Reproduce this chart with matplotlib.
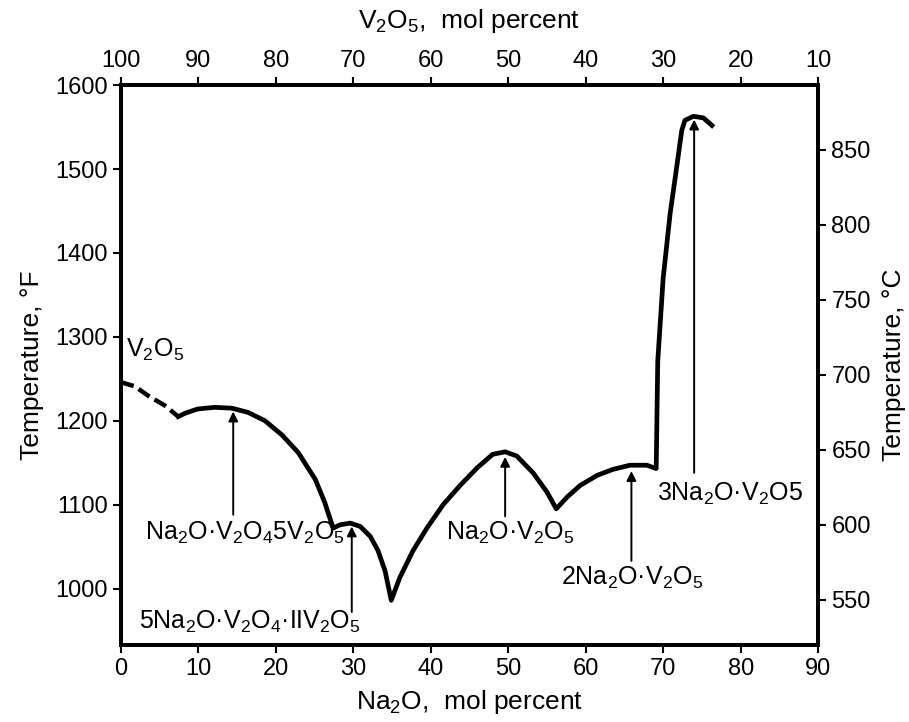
import matplotlib
matplotlib.use('Agg')
import matplotlib.pyplot as plt

plt.rcParams['font.family'] = ['Liberation Sans', 'DejaVu Sans']
plt.rcParams['mathtext.fontset'] = 'custom'
plt.rcParams['mathtext.rm'] = 'Liberation Sans'
plt.rcParams['mathtext.default'] = 'rm'

# Dati (Na2O mol %, temperatura in F)
na2o_dash = [0.0, 1.8, 3.5, 5.7, 7.4]
temp_dash = [1246, 1241, 1230, 1218, 1205]

na2o = [7.4, 8.3, 9.9, 12.1, 14.3, 16.4, 18.6, 20.8, 22.9, 25.1, 26.3, 27.4,
        28.3, 29.6, 30.9, 32.2, 33.2, 34.1, 34.9, 36.0, 37.7, 39.5, 41.6, 43.8,
        46.0, 48.0, 49.6, 51.1, 53.2, 55.0, 56.2, 57.6, 59.3, 61.5, 63.5, 65.7,
        67.9, 69.1, 69.3, 70.0, 70.9, 71.8, 72.4, 72.8, 73.9, 75.2, 76.3]
temp = [1205, 1209, 1214, 1216, 1215, 1210, 1200, 1183, 1162, 1130, 1103, 1072,
        1076, 1078, 1074, 1062, 1045, 1021, 986, 1013, 1045, 1072, 1100, 1123,
        1144, 1160, 1163, 1158, 1138, 1115, 1095, 1109, 1123, 1135, 1142, 1147,
        1147, 1143, 1271, 1370, 1447, 1506, 1546, 1558, 1563, 1561, 1552]

# Composti: etichetta, freccia (x, punta, coda), posizione testo
composti = ['Na$_2$O·V$_2$O$_4$5V$_2$O$_5$', '5Na$_2$O·V$_2$O$_4$·IIV$_2$O$_5$',
            'Na$_2$O·V$_2$O$_5$', '2Na$_2$O·V$_2$O$_5$', '3Na$_2$O·V$_2$O5']
freccia_x = [14.5, 29.8, 49.6, 65.9, 74.0]
freccia_top = [1211, 1074, 1157, 1140, 1559]
freccia_bot = [1088, 972, 1086, 1033, 1138]
testo_x = [16.0, 16.7, 50.2, 66.0, 78.6]
testo_y = [1066, 960, 1066, 1013, 1113]

fs = 17

fig = plt.figure(figsize=(9.09, 7.22), dpi=100)
ax = fig.add_axes([0.133, 0.107, 0.767, 0.775])

ax.plot(na2o_dash, temp_dash, color='black', lw=3.2, ls=(0, (3, 1.3)), solid_capstyle='butt')
ax.plot(na2o, temp, color='black', lw=3.4, solid_joinstyle='round')

for i in range(len(composti)):
    ax.annotate('', xy=(freccia_x[i], freccia_top[i]), xytext=(freccia_x[i], freccia_bot[i]),
                arrowprops=dict(arrowstyle='-|>', lw=1.4, color='black', mutation_scale=14,
                                shrinkA=0, shrinkB=0))
    ax.text(testo_x[i], testo_y[i], composti[i], fontsize=fs + 1, ha='center', va='center')

ax.text(4.4, 1285, 'V$_2$O$_5$', fontsize=fs + 1, ha='center', va='center')

ax.set_xlim(0, 90)
ax.set_ylim(933, 1595)
ax.set_xticks(range(0, 91, 10))
ax.set_yticks(range(1000, 1601, 100))
ax.set_xlabel('Na$_2$O,  mol percent', fontsize=fs + 2, labelpad=6)
ax.set_ylabel('Temperature, °F', fontsize=fs + 2, labelpad=8)

# asse superiore V2O5 = 100 - Na2O
top = ax.secondary_xaxis('top', functions=(lambda x: 100 - x, lambda v: 100 - v))
top.set_xticks(range(100, 9, -10))
top.set_xlabel('V$_2$O$_5$,  mol percent', fontsize=fs + 2, labelpad=16)
top.tick_params(labelsize=fs, width=1.5, length=6)

# asse destro in gradi C
ax2 = ax.twinx()
ax2.set_ylim(520, 893)
ax2.set_yticks(range(550, 851, 50))
ax2.set_ylabel('Temperature, °C', fontsize=fs + 2, labelpad=8)
ax2.tick_params(labelsize=fs, width=1.5, length=6)

ax.tick_params(labelsize=fs, width=1.5, length=6)
for a in [ax, ax2]:
    for s in a.spines.values():
        s.set_linewidth(2.8)
top.spines['top'].set_linewidth(2.8)

fig.savefig('out.png', dpi=100)
